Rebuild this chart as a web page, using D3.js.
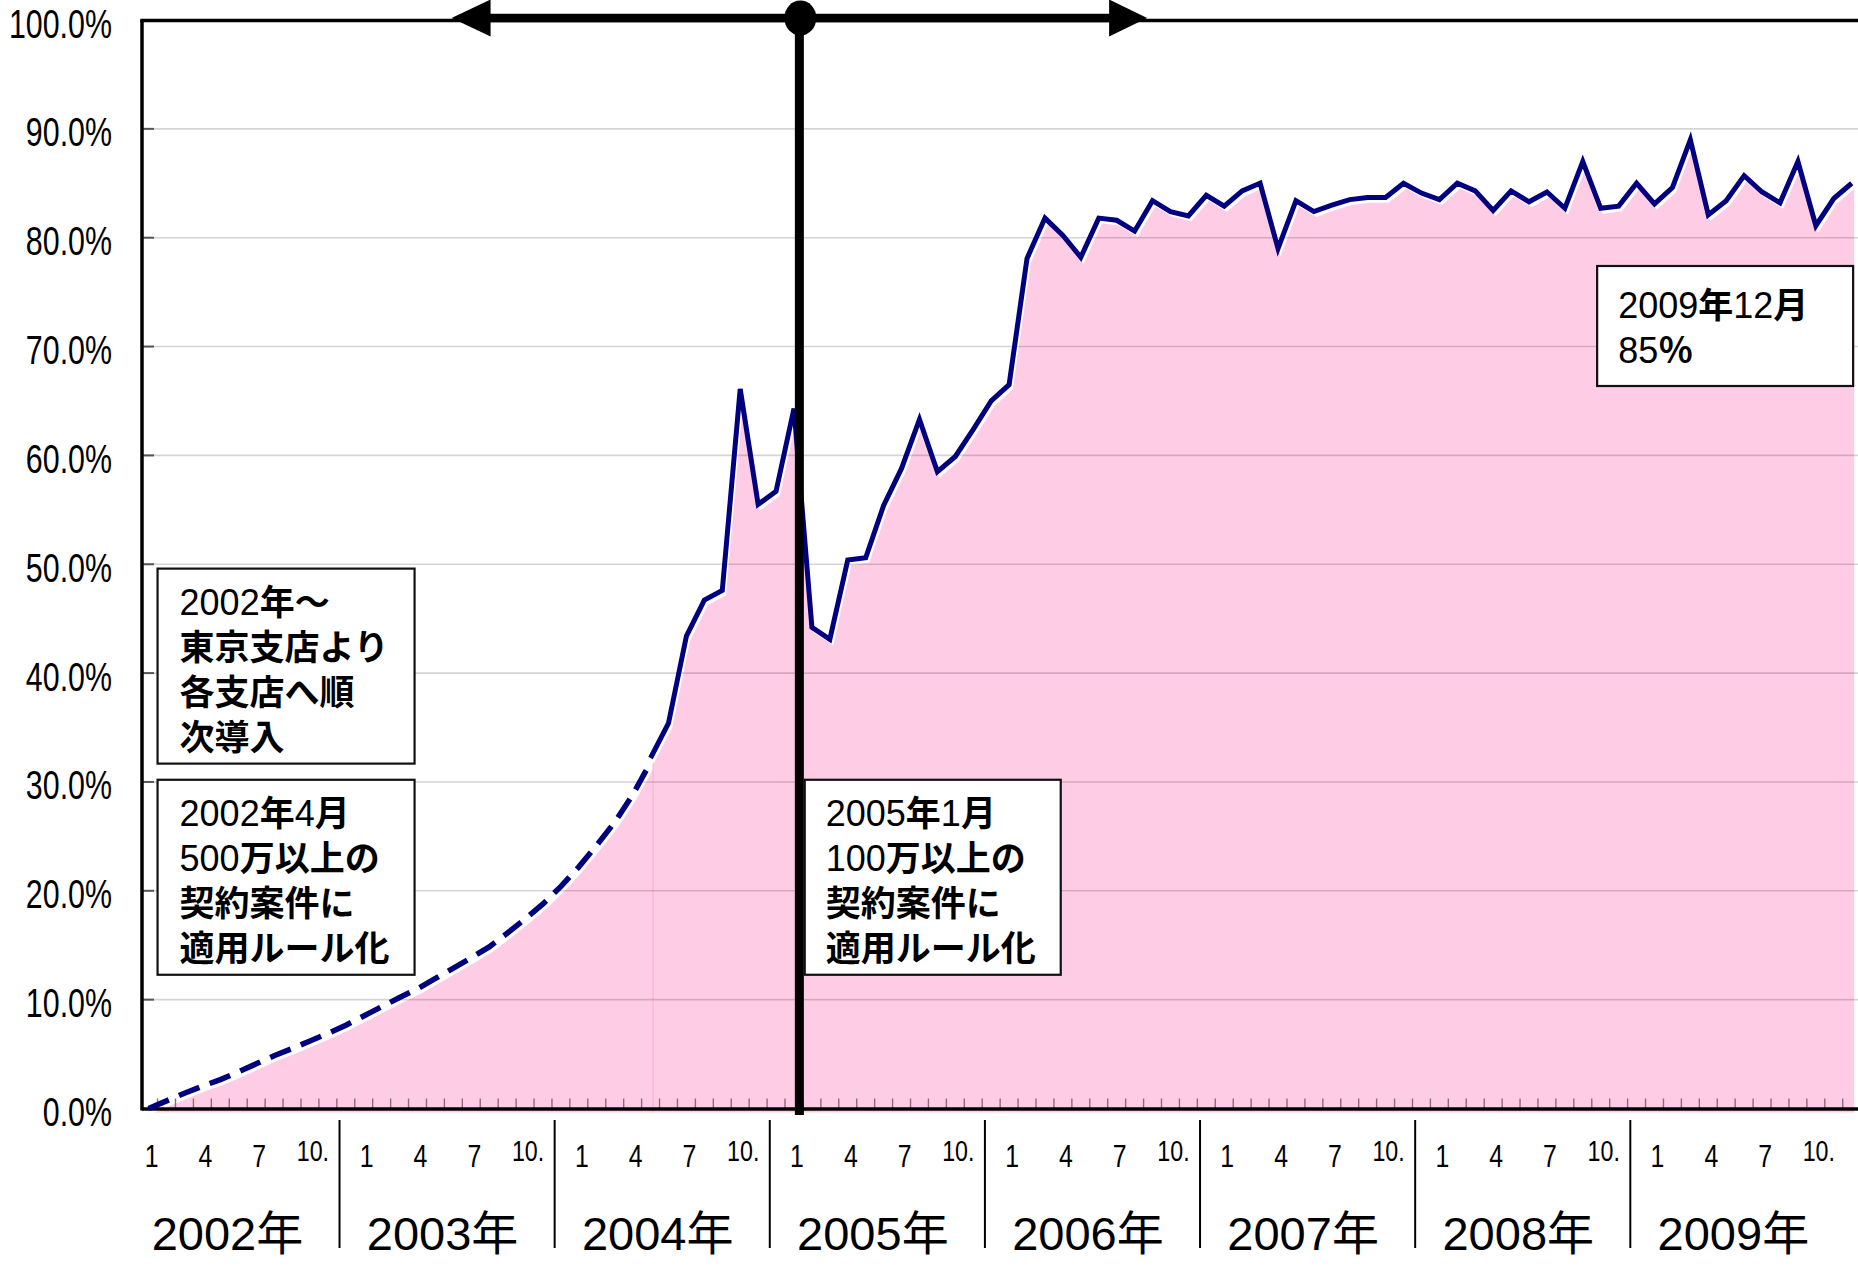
<!DOCTYPE html>
<html><head><meta charset="utf-8">
<script src="https://cdn.jsdelivr.net/npm/d3@7"></script>
<style>html,body{margin:0;padding:0;background:#fff;} svg{display:block;}</style>
</head><body>
<svg id="chart" width="1858" height="1266"></svg>
<script>
// ---------------- DATA ----------------
const years = [2002, 2003, 2004, 2005, 2006, 2007, 2008, 2009];
const monthTickLabels = ["1", "4", "7", "10."];
const monthTickOffsets = [0, 3, 6, 9];
const yTicks = [0, 10, 20, 30, 40, 50, 60, 70, 80, 90, 100];
// roll-out phase (dashed), month index 0 (2002-01) .. 28 (2004-05)
const rolloutValues = [0, 0.7, 1.4, 2.05, 2.65, 3.35, 4.1, 4.85, 5.5, 6.2,
  6.9, 7.65, 8.5, 9.35, 10.2, 11.0, 11.95, 12.9, 13.85, 14.85,
  16.1, 17.4, 18.8, 20.4, 22.2, 24.2, 26.3, 28.8, 31.8];
// measured phase (solid), month index 28 (2004-05) .. 95 (2009-12)
const actualStart = 28;
const actualValues = [32.2, 35.4, 43.4, 46.7, 47.6, 66.1, 55.5, 56.7, 64.3, 44.2,
  43.1, 50.4, 50.6, 55.4, 58.8, 63.3, 58.5, 59.9, 62.4, 65.0,
  66.5, 78.1, 81.8, 80.2, 78.2, 81.8, 81.6, 80.6, 83.4, 82.4,
  82.0, 83.9, 82.9, 84.3, 85.0, 79.0, 83.4, 82.4, 83.0, 83.5,
  83.7, 83.7, 85.0, 84.1, 83.5, 85.0, 84.3, 82.5, 84.3, 83.3,
  84.2, 82.7, 87.0, 82.7, 82.9, 85.0, 83.1, 84.6, 89.0, 82.1,
  83.4, 85.7, 84.2, 83.2, 87.0, 81.1, 83.6, 85.0];
const noteStart = ["2002年～", "東京支店より", "各支店へ順", "次導入"];
const noteRule2002 = ["2002年4月", "500万以上の", "契約案件に", "適用ルール化"];
const noteRule2005 = ["2005年1月", "100万以上の", "契約案件に", "適用ルール化"];
const noteLatest = ["2009年12月", "85％"];
const eventMonthIndex = 36.3; // 2005年1月

// ---------------- SETUP ----------------
const svg = d3.select("#chart");
const nMonths = years.length * 12;
const x = d3.scaleLinear().domain([0, nMonths - 1]).range([148.6, 1851.7]);
const y = d3.scaleLinear().domain([0, 100]).range([1108.5, 20]);
const plotLeft = 142, plotRight = 1858;
const LAT = "'Liberation Sans', Arial, sans-serif";
const CJK = "'Noto Sans CJK JP', 'Noto Sans CJK SC', sans-serif";

const rollout = rolloutValues.map((v, i) => ({i, v}));
const actual = actualValues.map((v, k) => ({i: k + actualStart, v}));

// ---------------- AREAS ----------------
const areaGen = d3.area().x(d => x(d.i)).y0(y(0)).y1(d => y(d.v));
const lineGen = d3.line().x(d => x(d.i)).y(d => y(d.v));
const shade = svg.append("g").attr("transform", "translate(2.5,4)");
shade.append("path").datum(rollout).attr("d", areaGen).attr("fill", "#ffcce6");
shade.append("path").datum(actual).attr("d", areaGen).attr("fill", "#ffcce6");
shade.append("path").datum(rollout).attr("d", lineGen).attr("fill", "none")
  .attr("stroke", "#fff").attr("stroke-width", 2.5);
shade.append("path").datum(actual).attr("d", lineGen).attr("fill", "none")
  .attr("stroke", "#fff").attr("stroke-width", 2.5);
shade.append("line").attr("x1", x(actualStart)).attr("x2", x(actualStart))
  .attr("y1", y(actualValues[0]) + 2).attr("y2", y(0))
  .attr("stroke", "#f7b3d6").attr("stroke-width", 1.2);

// ---------------- GRID ----------------
svg.append("g").selectAll("line").data(yTicks.filter(d => d > 0 && d < 100)).join("line")
  .attr("x1", plotLeft).attr("x2", plotRight)
  .attr("y1", d => y(d)).attr("y2", d => y(d))
  .attr("stroke", "#000").attr("stroke-opacity", 0.17).attr("stroke-width", 1.6);
// y ticks inside
svg.append("g").selectAll("line").data(yTicks.filter(d => d > 0 && d < 100)).join("line")
  .attr("x1", plotLeft).attr("x2", plotLeft + 12)
  .attr("y1", d => y(d)).attr("y2", d => y(d))
  .attr("stroke", "#555").attr("stroke-width", 2);
// month ticks
svg.append("g").selectAll("line").data(d3.range(1, nMonths)).join("line")
  .attr("x1", d => x(d - 0.5)).attr("x2", d => x(d - 0.5))
  .attr("y1", y(0) - 10).attr("y2", y(0))
  .attr("stroke", "#8a6a80").attr("stroke-width", 1.4);

// ---------------- AXES ----------------
svg.append("line").attr("x1", plotLeft).attr("x2", plotRight)
  .attr("y1", y(0) + 0.5).attr("y2", y(0) + 0.5).attr("stroke", "#000").attr("stroke-width", 3.5);
svg.append("line").attr("x1", plotLeft).attr("x2", plotLeft)
  .attr("y1", y(100)).attr("y2", y(0) + 2).attr("stroke", "#000").attr("stroke-width", 3.5);
svg.append("line").attr("x1", plotLeft - 1.7).attr("x2", plotRight)
  .attr("y1", y(100) + 0.5).attr("y2", y(100) + 0.5).attr("stroke", "#000").attr("stroke-width", 3.5);

svg.append("g").selectAll("text").data(yTicks).join("text")
  .attr("transform", d => `translate(112,${y(d) + 17.5}) scale(0.76,1)`)
  .attr("text-anchor", "end").attr("font-family", LAT).attr("font-size", 40).attr("fill", "#000")
  .text(d => d.toFixed(1) + "%");

// month labels
const monthLabelData = [];
years.forEach((yr, k) => monthTickOffsets.forEach((m, j) =>
  monthLabelData.push({i: k * 12 + m, label: monthTickLabels[j]})));
svg.append("g").selectAll("text").data(monthLabelData).join("text")
  .attr("transform", d => `translate(${x(d.i) + 3},${d.label.length > 2 ? 1161 : 1167}) scale(0.8,1)`)
  .attr("text-anchor", "middle").attr("font-family", LAT)
  .attr("font-size", d => d.label.length > 2 ? 29 : 31).attr("fill", "#000")
  .text(d => d.label);
// year separators
svg.append("g").selectAll("line").data(years.slice(1)).join("line")
  .attr("x1", (d, k) => x((k + 1) * 12 - 1.35)).attr("x2", (d, k) => x((k + 1) * 12 - 1.35))
  .attr("y1", 1120).attr("y2", 1248).attr("stroke", "#000").attr("stroke-width", 2);
svg.append("g").selectAll("text").data(years).join("text")
  .attr("x", (d, k) => x(k * 12 + 4.4)).attr("y", 1250)
  .attr("text-anchor", "middle").attr("font-family", LAT + ", " + CJK)
  .attr("font-size", 47).attr("fill", "#000")
  .text(d => d + "年");

// ---------------- LINES ----------------
svg.append("path").datum(rollout).attr("d", lineGen).attr("fill", "none")
  .attr("stroke", "#000080").attr("stroke-width", 5.5).attr("stroke-dasharray", "22,11");
svg.append("path").datum(actual).attr("d", lineGen).attr("fill", "none")
  .attr("stroke", "#000080").attr("stroke-width", 5).attr("stroke-linejoin", "miter");

// ---------------- EVENT MARKER ----------------
const ex = x(eventMonthIndex);
const arrowY = 18;
const leftTip = x(16.9), rightTip = x(55.7);
svg.append("line").attr("x1", ex).attr("x2", ex).attr("y1", arrowY).attr("y2", 1115)
  .attr("stroke", "#000").attr("stroke-width", 9);
svg.append("line").attr("x1", leftTip + 30).attr("x2", rightTip - 30).attr("y1", arrowY).attr("y2", arrowY)
  .attr("stroke", "#000").attr("stroke-width", 8.5);
svg.append("polygon").attr("points", `${leftTip},${arrowY} ${leftTip + 39},${arrowY - 18.5} ${leftTip + 39},${arrowY + 18.5}`).attr("fill", "#000");
svg.append("polygon").attr("points", `${rightTip},${arrowY} ${rightTip - 38},${arrowY - 18.5} ${rightTip - 38},${arrowY + 18.5}`).attr("fill", "#000");
svg.append("ellipse").attr("cx", ex + 1).attr("cy", arrowY).attr("rx", 16).attr("ry", 17.5).attr("fill", "#000");

// ---------------- NOTES ----------------
function note(lines, bx, by, w, h, tx, baselines) {
  const g = svg.append("g");
  g.append("rect").attr("x", bx).attr("y", by).attr("width", w).attr("height", h)
    .attr("fill", "#fff").attr("stroke", "#111").attr("stroke-width", 2.2);
  lines.forEach((ln, li) => {
    const t = g.append("text").attr("x", tx).attr("y", by + baselines[li]).attr("fill", "#000");
    ln.split(/([0-9.%]+)/).filter(s => s.length).forEach(part => {
      const isLat = /^[0-9.%]+$/.test(part);
      t.append("tspan").text(part)
        .attr("font-family", isLat ? LAT : CJK)
        .attr("font-weight", isLat ? "normal" : "bold")
        .attr("font-size", isLat ? 36 : 35);
    });
  });
}
const four = [46.5, 91.5, 136.5, 181.5];
note(noteStart, x(0.5), y(49.6), 257, 195, x(0.5) + 22, four);
note(noteRule2002, x(0.5), y(30.2), 257, 195, x(0.5) + 22, four);
note(noteRule2005, x(36.6), y(30.2), 256, 195, x(36.6) + 21, four);
note(noteLatest, x(80.8), y(77.4), 256, 120, x(80.8) + 21, [52, 97]);
</script>
</body></html>
